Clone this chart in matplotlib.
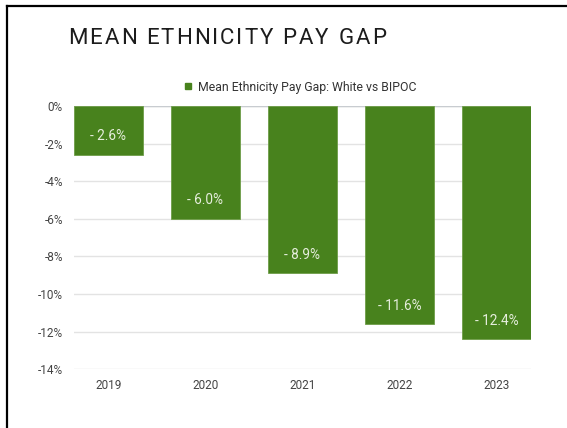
import matplotlib
matplotlib.use("Agg")
import matplotlib.pyplot as plt
from matplotlib.lines import Line2D
from matplotlib.font_manager import FontProperties

plt.rcParams['font.family'] = ['Roboto', 'DejaVu Sans']

years = ["2019", "2020", "2021", "2022", "2023"]
gap = [-2.6, -6.0, -8.9, -11.6, -12.4]
value_labels = ["- 2.6%", "- 6.0%", "- 8.9%", "- 11.6%", "- 12.4%"]
y_ticks = [0, -2, -4, -6, -8, -10, -12, -14]
y_tick_labels = ["0%", "-2%", "-4%", "-6%", "-8%", "-10%", "-12%", "-14%"]
series_name = "Mean Ethnicity Pay Gap: White vs BIPOC"
title = "MEAN ETHNICITY PAY GAP"

W, H = 567, 428
bar_color = "#48821d"
tick_color = "#444444"

fig = plt.figure(figsize=(W / 100, H / 100), dpi=100)
fig.patch.set_facecolor("white")

ax = fig.add_axes([74 / W, 1 - 369.3 / H, (531 - 74) / W, (369.3 - 106) / H])

x = list(range(len(years)))
bars = ax.bar(x, gap, width=0.71, color=bar_color, edgecolor="#6e9d48",
              linewidth=0.6, zorder=3)

for rect, lab in zip(bars, value_labels):
    ax.annotate(lab, (rect.get_x() + rect.get_width() / 2, rect.get_height()),
                xytext=(0, 13.3), textcoords="offset points",
                ha="center", va="center", fontsize=9.8, color="#e6eedd", zorder=4)

ax.set_xlim(-0.355, len(years) - 1 + 0.355)
ax.set_ylim(-14, 0)
ax.set_yticks(y_ticks)
ax.set_yticklabels(y_tick_labels)
ax.set_xticks(x)
ax.set_xticklabels(years)
ax.tick_params(axis="both", length=0, labelsize=8.5, labelcolor=tick_color)
ax.tick_params(axis="y", pad=8)
ax.tick_params(axis="x", pad=7)
ax.grid(axis="y", color="#e3e3e3", linewidth=1, zorder=0)
ax.set_axisbelow(True)
for s in ax.spines.values():
    s.set_visible(False)
ax.axhline(0, color="#c8ccd0", linewidth=1, zorder=2)

handle = Line2D([], [], marker="s", linestyle="none", markersize=5,
                markerfacecolor=bar_color, markeredgecolor=bar_color)
fig.legend([handle], [series_name], loc="center",
           bbox_to_anchor=(300 / W, 1 - 87 / H), frameon=False,
           fontsize=8.8, handletextpad=0.45, handlelength=0.8,
           labelcolor="#333333")

# title drawn with extra letter spacing
title_fp = FontProperties(family=["Roboto", "DejaVu Sans"], size=16)
renderer = fig.canvas.get_renderer()
tracking_px = 2.0
x0, yc = 68, 35.5
for i, ch in enumerate(title):
    if ch == " ":
        continue
    w_prefix = renderer.get_text_width_height_descent(title[:i], title_fp, ismath=False)[0] if i else 0
    fig.text((x0 + w_prefix + i * tracking_px) / W, 1 - yc / H, ch,
             ha="left", va="center_baseline", fontproperties=title_fp,
             color="#1c1c1c")

# frame edges along the top and left
fig.add_artist(Line2D([6.5 / W, 1], [1 - 6 / H, 1 - 6 / H],
                      transform=fig.transFigure, color="black", linewidth=1.6))
fig.add_artist(Line2D([6.5 / W, 6.5 / W], [0, 1 - 6 / H],
                      transform=fig.transFigure, color="black", linewidth=1.6))

fig.savefig("out.png", dpi=100)
